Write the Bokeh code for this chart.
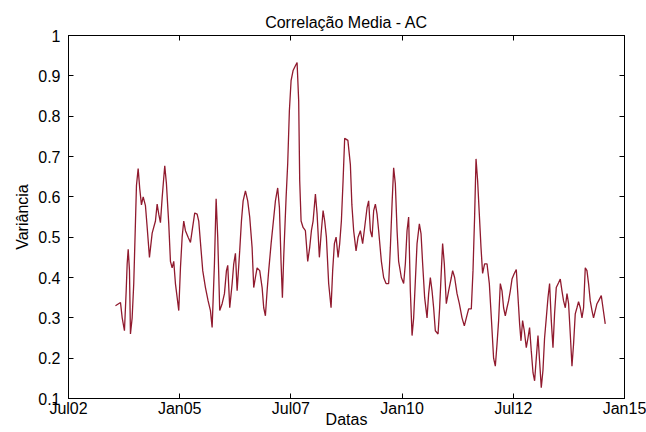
from bokeh.plotting import figure
from bokeh.models import ColumnDataSource, FixedTicker, LinearAxis, Range1d
from bokeh.embed import file_html
from bokeh.resources import INLINE

# ---- data (decimal year, variance) ----
anos = [
    2003.556, 2003.669, 2003.707, 2003.758, 2003.797, 2003.819, 2003.842, 2003.871, 2003.893, 2003.931,
    2003.967, 2004.006, 2004.028, 2004.066, 2004.102, 2004.140, 2004.179, 2004.230, 2004.269, 2004.320,
    2004.381, 2004.455, 2004.493, 2004.529, 2004.567, 2004.606, 2004.642, 2004.664, 2004.702, 2004.754,
    2004.792, 2004.830, 2004.866, 2004.904, 2004.943, 2004.979, 2005.017, 2005.055, 2005.091, 2005.129,
    2005.190, 2005.242, 2005.280, 2005.338, 2005.392, 2005.428, 2005.482, 2005.518, 2005.579, 2005.639,
    2005.691, 2005.729, 2005.781, 2005.819, 2005.855, 2005.900, 2005.954, 2006.006, 2006.051, 2006.080,
    2006.125, 2006.179, 2006.215, 2006.253, 2006.291, 2006.349, 2006.388, 2006.426, 2006.478, 2006.529,
    2006.574, 2006.628, 2006.664, 2006.702, 2006.740, 2006.799, 2006.853, 2006.889, 2006.927, 2006.965,
    2007.001, 2007.055, 2007.100, 2007.152, 2007.203, 2007.242, 2007.280, 2007.309, 2007.338, 2007.392,
    2007.428, 2007.466, 2007.504, 2007.549, 2007.601, 2007.639, 2007.675, 2007.698, 2007.729, 2007.774,
    2007.826, 2007.878, 2007.922, 2007.961, 2007.999, 2008.051, 2008.089, 2008.140, 2008.179, 2008.224,
    2008.260, 2008.298, 2008.349, 2008.403, 2008.439, 2008.478, 2008.516, 2008.561, 2008.597, 2008.635,
    2008.673, 2008.709, 2008.781, 2008.837, 2008.871, 2008.911, 2008.965, 2009.010, 2009.062, 2009.113,
    2009.158, 2009.212, 2009.248, 2009.287, 2009.325, 2009.361, 2009.399, 2009.437, 2009.473, 2009.534,
    2009.585, 2009.639, 2009.698, 2009.736, 2009.774, 2009.810, 2009.848, 2009.887, 2009.922, 2009.983,
    2010.035, 2010.073, 2010.111, 2010.147, 2010.185, 2010.224, 2010.260, 2010.298, 2010.336, 2010.388,
    2010.426, 2010.462, 2010.507, 2010.561, 2010.597, 2010.635, 2010.673, 2010.709, 2010.747, 2010.808,
    2010.844, 2010.882, 2010.911, 2010.949, 2010.994, 2011.046, 2011.107, 2011.136, 2011.181, 2011.235,
    2011.287, 2011.347, 2011.399, 2011.444, 2011.496, 2011.556, 2011.594, 2011.630, 2011.662, 2011.698,
    2011.736, 2011.774, 2011.810, 2011.855, 2011.909, 2011.961, 2012.006, 2012.057, 2012.096, 2012.134,
    2012.170, 2012.208, 2012.246, 2012.282, 2012.320, 2012.358, 2012.394, 2012.433, 2012.471, 2012.522,
    2012.567, 2012.597, 2012.642, 2012.673, 2012.709, 2012.747, 2012.792, 2012.830, 2012.866, 2012.904,
    2012.943, 2012.979, 2013.017, 2013.055, 2013.091, 2013.129, 2013.167, 2013.203, 2013.242, 2013.280,
    2013.316, 2013.354, 2013.392, 2013.428, 2013.466, 2013.518, 2013.556, 2013.594, 2013.630, 2013.669,
    2013.707, 2013.743, 2013.781, 2013.819, 2013.855, 2013.893, 2013.931, 2013.967, 2014.006, 2014.044,
    2014.080, 2014.118, 2014.156, 2014.192, 2014.230, 2014.269, 2014.304, 2014.343, 2014.381, 2014.417,
    2014.478, 2014.516, 2014.567,
]

variancia = [
    0.330, 0.338, 0.300, 0.268, 0.367, 0.434, 0.470, 0.417, 0.260, 0.300,
    0.385, 0.540, 0.628, 0.670, 0.620, 0.580, 0.600, 0.578, 0.524, 0.450,
    0.510, 0.540, 0.582, 0.557, 0.536, 0.598, 0.648, 0.677, 0.632, 0.533,
    0.440, 0.424, 0.440, 0.385, 0.350, 0.318, 0.424, 0.500, 0.540, 0.516,
    0.500, 0.487, 0.516, 0.560, 0.557, 0.540, 0.466, 0.417, 0.375, 0.342,
    0.318, 0.276, 0.434, 0.595, 0.500, 0.318, 0.335, 0.360, 0.417, 0.430,
    0.325, 0.385, 0.434, 0.460, 0.367, 0.466, 0.540, 0.590, 0.615, 0.590,
    0.550, 0.474, 0.375, 0.400, 0.424, 0.417, 0.375, 0.325, 0.305, 0.367,
    0.417, 0.484, 0.533, 0.590, 0.622, 0.573, 0.434, 0.350, 0.450, 0.598,
    0.682, 0.814, 0.888, 0.913, 0.925, 0.933, 0.838, 0.640, 0.540, 0.524,
    0.516, 0.440, 0.474, 0.516, 0.540, 0.607, 0.557, 0.450, 0.508, 0.566,
    0.540, 0.500, 0.385, 0.325, 0.417, 0.484, 0.500, 0.450, 0.484, 0.540,
    0.640, 0.745, 0.740, 0.680, 0.580, 0.516, 0.466, 0.500, 0.516, 0.484,
    0.524, 0.573, 0.590, 0.516, 0.500, 0.566, 0.582, 0.557, 0.516, 0.440,
    0.400, 0.385, 0.385, 0.474, 0.582, 0.672, 0.632, 0.516, 0.440, 0.400,
    0.385, 0.434, 0.516, 0.550, 0.367, 0.256, 0.300, 0.392, 0.484, 0.533,
    0.508, 0.434, 0.350, 0.300, 0.360, 0.400, 0.367, 0.325, 0.268, 0.260,
    0.325, 0.417, 0.484, 0.434, 0.335, 0.367, 0.400, 0.417, 0.400, 0.360,
    0.335, 0.300, 0.280, 0.300, 0.322, 0.322, 0.417, 0.550, 0.694, 0.640,
    0.557, 0.474, 0.410, 0.434, 0.434, 0.385, 0.300, 0.200, 0.180, 0.235,
    0.293, 0.385, 0.367, 0.325, 0.305, 0.325, 0.342, 0.367, 0.396, 0.410,
    0.420, 0.367, 0.285, 0.243, 0.293, 0.268, 0.226, 0.250, 0.276, 0.218,
    0.164, 0.144, 0.200, 0.256, 0.193, 0.127, 0.170, 0.250, 0.300, 0.350,
    0.385, 0.293, 0.226, 0.310, 0.375, 0.387, 0.396, 0.367, 0.342, 0.325,
    0.360, 0.335, 0.260, 0.180, 0.235, 0.310, 0.325, 0.340, 0.325, 0.300,
    0.325, 0.424, 0.417, 0.385, 0.342, 0.318, 0.300, 0.318, 0.335, 0.342,
    0.355, 0.325, 0.285,
]

ticks_x = [2002.5, 2005.0, 2007.5, 2010.0, 2012.5, 2015.0]
rotulos_x = ["Jul02", "Jan05", "Jul07", "Jan10", "Jul12", "Jan15"]
ticks_y = [0.1, 0.2, 0.3, 0.4, 0.5, 0.6, 0.7, 0.8, 0.9, 1.0]
rotulos_y = ["0.1", "0.2", "0.3", "0.4", "0.5", "0.6", "0.7", "0.8", "0.9", "1"]

FONT = "Liberation Sans"

src = ColumnDataSource(dict(ano=anos, var=variancia))

p = figure(
    width=646, height=432,
    output_backend="svg", toolbar_location=None,
    x_range=Range1d(ticks_x[0], ticks_x[-1]),
    y_range=Range1d(ticks_y[0], ticks_y[-1]),
    min_border_left=68, min_border_right=22,
    min_border_top=35, min_border_bottom=34,
    title="Correlação Media - AC",
)
p.background_fill_color = "white"
p.border_fill_color = "white"
p.outline_line_color = "black"
p.xgrid.visible = False
p.ygrid.visible = False

p.title.align = "center"
p.title.text_font = FONT
p.title.text_font_size = "16px"
p.title.text_font_style = "normal"
p.title.text_color = "black"
p.title.standoff = 9

p.line(x="ano", y="var", source=src, line_color="#901A2E", line_width=1.3)


def style(ax, ticks, labels, size):
    ax.ticker = FixedTicker(ticks=ticks)
    ax.major_label_overrides = dict(zip(ticks, labels))
    ax.major_tick_in = 5
    ax.major_tick_out = 0
    ax.minor_tick_line_color = None
    ax.axis_line_color = "black"
    ax.major_tick_line_color = "black"
    ax.major_label_text_font = FONT
    ax.major_label_text_font_size = size
    ax.major_label_text_color = "black"
    ax.axis_label_text_font = FONT
    ax.axis_label_text_font_size = "16px"
    ax.axis_label_text_font_style = "normal"
    ax.axis_label_text_color = "black"


xa = p.xaxis[0]
style(xa, ticks_x, rotulos_x, "16px")
xa.axis_label = "Datas"
xa.major_label_standoff = 1
xa.axis_label_standoff = -9

ya = p.yaxis[0]
style(ya, ticks_y, rotulos_y, "16px")
ya.axis_label = "Variância"
ya.major_label_standoff = 8
ya.axis_label_standoff = 4

top = LinearAxis()
style(top, ticks_x, rotulos_x, "0px")
top.major_label_text_alpha = 0
top.major_label_standoff = 0
p.add_layout(top, "above")

right = LinearAxis()
style(right, ticks_y, rotulos_y, "0px")
right.major_label_text_alpha = 0
right.major_label_standoff = 0
p.add_layout(right, "right")

open("out.html", "w").write(file_html(p, INLINE))
